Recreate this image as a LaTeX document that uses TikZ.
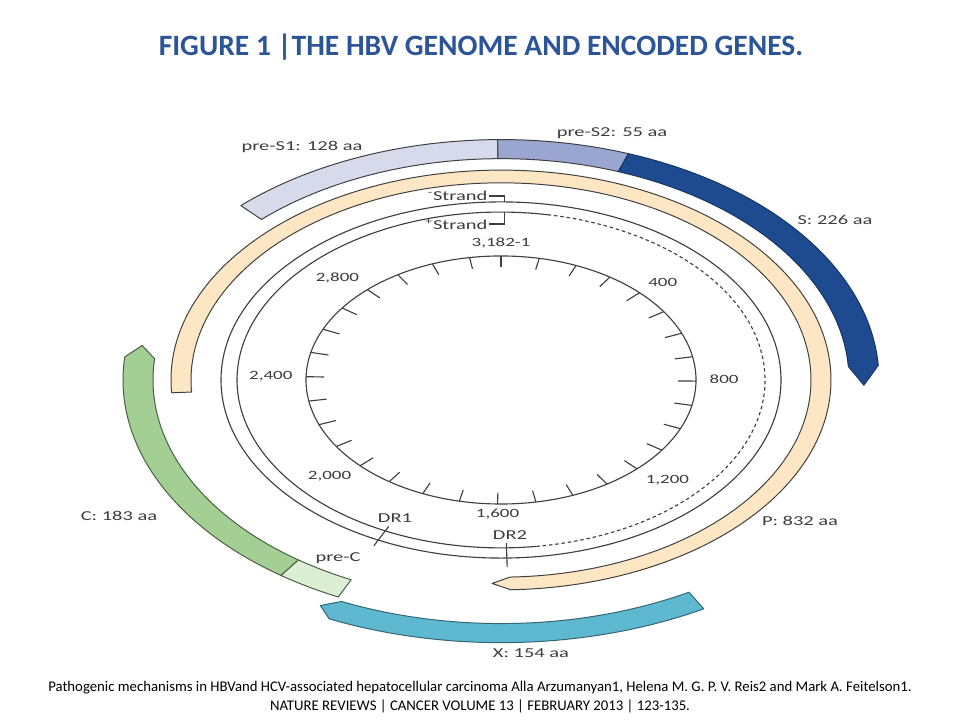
\documentclass[tikz,border=0pt]{standalone}
\usepackage{fontspec}
\setmainfont{Carlito}
\newfontfamily\widefont{Carlito}[FakeStretch=1.5]
\definecolor{linegray}{HTML}{3F3F3F}
\definecolor{textgray}{HTML}{3C3C3C}
\definecolor{titleblue}{HTML}{2C5499}
\definecolor{preSone}{HTML}{D6DAEB}
\definecolor{preStwo}{HTML}{9AA6CF}
\definecolor{Sgene}{HTML}{1E4B8F}
\definecolor{Pgene}{HTML}{FCE6C3}
\definecolor{Cgene}{HTML}{A3CF94}
\definecolor{preCgene}{HTML}{DCEFD5}
\definecolor{Xgene}{HTML}{5DB8D0}
\begin{document}
\begin{tikzpicture}[x=0.025cm, y=0.025cm,
    gene/.style={draw=linegray, line width=0.7pt, line join=round},
    strand/.style={draw=linegray, line width=0.8pt},
    genelabel/.style={font=\widefont\fontsize{9.7}{11}\selectfont, text=textgray, inner sep=1pt},
    poslabel/.style={font=\widefont\fontsize{9}{10}\selectfont, text=textgray, inner sep=1pt}]
    \useasboundingbox (0,0) rectangle (960,720);
    % Title
    \node[font=\bfseries\fontsize{21}{25}\selectfont, text=titleblue] (title) at (481,673) {FIGURE 1 |THE HBV GENOME AND ENCODED GENES.};
    % Genome map (circle squashed to the slide's ellipse)
    \begin{scope}[shift={(501,340)}, yscale=0.636]
        % Position scale
        \draw[strand] (0,0) circle[radius=195];
        \foreach \p [evaluate=\p as \a using 90-\p/3182*360] in {0,100,...,3100}
            \draw[strand] (\a:195) -- (\a:177);
        \node[poslabel, anchor=south] (pos0) at (90:205) {3,182-1};
        \node[poslabel, anchor=south west] (pos400) at (44.75:205) {400};
        \node[poslabel, anchor=west] (pos800) at (0.5:207) {800};
        \node[poslabel, anchor=north west] (pos1200) at (-45.7:205) {1,200};
        \node[poslabel, anchor=north] (pos1600) at (-91:200) {1,600};
        \node[poslabel, anchor=north east] (pos2000) at (-136.3:205) {2,000};
        \node[poslabel, anchor=east] (pos2400) at (-181.6:207) {2,400};
        \node[poslabel, anchor=south east] (pos2800) at (133.2:205) {2,800};
        % Minus and plus strands
        \draw[strand] (0,0) circle[radius=280];
        \draw[strand] (79.5:264) arc[start angle=79.5, end angle=277.7, radius=264];
        \draw[strand, dash pattern=on 2.5pt off 2pt] (-82.3:264) arc[start angle=-82.3, end angle=79.5, radius=264];
        \coordinate (mjoin) at (89.2:280);
        \coordinate (pjoin) at (89.2:264);
        % Direct repeats
        \draw[strand] (244:256) -- (244:290);
        \draw[strand] (-88.8:256) -- (-88.8:294);
        % P gene
        \draw[gene, fill=Pgene] (183.5:330) arc[start angle=183.5, end angle=-88.3, radius=330]
            -- (-91.6:320) -- (-88.3:310) arc[start angle=-88.3, end angle=183.5, radius=310] -- cycle;
        % Envelope genes
        \draw[gene, fill=preSone] (133.5:378) arc[start angle=133.5, end angle=90.5, radius=378]
            -- (90.5:348) arc[start angle=90.5, end angle=133.5, radius=348] -- cycle;
        \draw[gene, fill=preStwo] (90.5:378) arc[start angle=90.5, end angle=70.3, radius=378]
            -- (70.3:348) arc[start angle=70.3, end angle=90.5, radius=348] -- cycle;
        \draw[gene, draw=Sgene!70!black, fill=Sgene] (70.3:378) arc[start angle=70.3, end angle=3.5, radius=378]
            -- (-1.3:363) -- (3.5:348) arc[start angle=3.5, end angle=70.3, radius=348] -- cycle;
        % Core genes
        \draw[gene, draw=Cgene!45!black, fill=Cgene] (174.5:378) -- (171.4:363) -- (174.5:348)
            arc[start angle=174.5, end angle=234.4, radius=348] -- (234.4:378)
            arc[start angle=234.4, end angle=174.5, radius=378] -- cycle;
        \draw[gene, draw=Cgene!45!black, fill=preCgene] (234.4:378) arc[start angle=234.4, end angle=244.5, radius=378]
            -- (244.5:348) arc[start angle=244.5, end angle=234.4, radius=348] -- cycle;
        % X gene
        \draw[gene, draw=Xgene!55!black, fill=Xgene] (-60.6:413) arc[start angle=-60.6, end angle=-114.6, radius=413]
            -- (-117:398) -- (-114.6:383) arc[start angle=-114.6, end angle=-60.6, radius=383] -- cycle;
    \end{scope}
    % Strand labels
    \node[genelabel, anchor=east] (minusstrand) at (489,524) {\textsuperscript{-}Strand};
    \node[genelabel, anchor=east] (plusstrand) at (489,496) {\textsuperscript{+}Strand};
    \draw[strand] (minusstrand.east) -| (mjoin);
    \draw[strand] (plusstrand.east) -| (pjoin);
    % Gene and repeat labels
    \node[genelabel] (preS1lab) at (302,573) {pre-S1: 128 aa};
    \node[genelabel] (preS2lab) at (612,587) {pre-S2: 55 aa};
    \node[genelabel] (Slab) at (835,500) {S: 226 aa};
    \node[genelabel] (Plab) at (800,199) {P: 832 aa};
    \node[genelabel] (Clab) at (119,204) {C: 183 aa};
    \node[genelabel] (preClab) at (338,162) {pre-C};
    \node[genelabel] (Xlab) at (531,67) {X: 154 aa};
    \node[genelabel] (DR1lab) at (395,202) {DR1};
    \node[genelabel] (DR2lab) at (510,185) {DR2};
    % Source
    \node[font=\fontsize{10.5}{13.5}\selectfont, align=center] (source) at (480,22.5)
        {Pathogenic mechanisms in HBVand HCV-associated hepatocellular carcinoma Alla Arzumanyan1, Helena M. G. P. V. Reis2 and Mark A. Feitelson1.\\
         NATURE REVIEWS | CANCER VOLUME 13 | FEBRUARY 2013 | 123-135.};
\end{tikzpicture}
\end{document}
